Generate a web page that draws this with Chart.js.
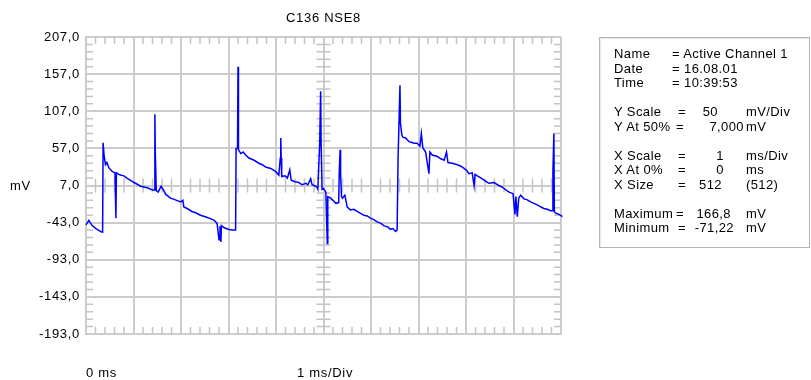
<!DOCTYPE html>
<html>
<head>
<meta charset="utf-8">
<script src="https://cdn.jsdelivr.net/npm/chart.js@4"></script>
<style>
  body { margin: 0; background: #fff; }
  #wrap { position: relative; width: 811px; height: 380px; font-family: "Liberation Sans", Arial, sans-serif; font-size: 13px; letter-spacing: 0.7px; color: #000; }
  #wrap canvas { position: absolute; left: 0; top: 0; }
  .t { position: absolute; white-space: pre; line-height: 14px; }
  #info { position: absolute; left: 599px; top: 37px; width: 209px; height: 209px; border: 1px solid #b4b4b4; box-shadow: inset 1px 1px 0 #e8e8e8; letter-spacing: 0.4px; }
</style>
</head>
<body>
<div id="wrap">
  <canvas id="scope" width="811" height="380"></canvas>
  <div class="t" style="left:286px;top:11px">C136 NSE8</div>
  <div class="t" style="left:10px;top:179px">mV</div>
  <div class="t" style="left:86px;top:366px">0 ms</div>
  <div class="t" style="left:297px;top:366px">1 ms/Div</div>
  <div id="info"></div>
</div>
<script>
// --- data (time in ms, voltage in mV) ---
const timeMs = [
  0.00, 0.06, 0.13, 0.21, 0.31, 0.35, 0.36, 0.38, 0.41, 0.44, 0.48, 0.55, 0.61, 0.63, 0.64, 0.72,
  0.80, 0.86, 0.94, 1.01, 1.07, 1.15, 1.22, 1.29, 1.40, 1.44, 1.45, 1.46, 1.47, 1.48, 1.52, 1.58,
  1.62, 1.68, 1.78, 1.87, 1.99, 2.04, 2.06, 2.13, 2.23, 2.32, 2.41, 2.51, 2.63, 2.70, 2.76, 2.80,
  2.82, 2.84, 2.85, 2.91, 2.99, 3.07, 3.15, 3.16, 3.19, 3.20, 3.21, 3.26, 3.31, 3.36, 3.43, 3.54,
  3.64, 3.71, 3.78, 3.89, 3.99, 4.06, 4.09, 4.10, 4.11, 4.12, 4.19, 4.24, 4.29, 4.32, 4.40, 4.48,
  4.55, 4.63, 4.67, 4.73, 4.76, 4.80, 4.86, 4.88, 4.92, 4.94, 4.95, 4.97, 5.00, 5.05, 5.08, 5.09,
  5.15, 5.20, 5.26, 5.32, 5.33, 5.35, 5.36, 5.38, 5.40, 5.45, 5.50, 5.57, 5.64, 5.71, 5.79, 5.85,
  5.92, 5.99, 6.06, 6.13, 6.21, 6.27, 6.36, 6.41, 6.46, 6.52, 6.55, 6.57, 6.61, 6.62, 6.65, 6.67,
  6.73, 6.80, 6.86, 6.91, 6.97, 7.03, 7.06, 7.09, 7.15, 7.22, 7.24, 7.29, 7.40, 7.47, 7.54, 7.59,
  7.62, 7.71, 7.82, 7.89, 7.96, 8.02, 8.06, 8.13, 8.17, 8.19, 8.24, 8.32, 8.41, 8.48, 8.59, 8.69,
  8.76, 8.80, 8.86, 8.91, 8.99, 9.03, 9.05, 9.08, 9.11, 9.15, 9.22, 9.28, 9.36, 9.43, 9.50, 9.58,
  9.64, 9.71, 9.78, 9.82, 9.83, 9.85, 9.86, 9.88, 9.96, 10.03, 10.11, 10.17, 10.22
];
const voltMv = [
  -46, -40, -47, -51, -55, -56, 64.6, 48, 35, 38, 31, 26, 24, -37, 24, 21,
  20, 17, 14, 11, 9, 6, 5, 4, 1, 1, 103, 49, 49, 0, -2, 6,
  2, -5, -10, -12, -15, -13, -22, -24, -28, -30, -33, -35, -38, -40, -44, -66,
  -48, -69, -47, -50, -52, -53, -53, 57, 57, 166.8, 55, 50, 52, 48, 44, 41,
  37, 35, 32, 30, 26, 21, 44, 71, 44, 19, 20, 17, 28, 14, 12, 11,
  8, 10, 8, 16, 8, 7, 5, 2, 64, 134, 64, 2, 3, -2, -71.2, -8,
  -10, -13, -17, -16, 21, 55, 21, -8, -10, -6, -22, -26, -25, -28, -31, -33,
  -34, -37, -39, -42, -44, -47, -49, -52, -51, -55, -53, 44, 142, 91, 75, 72,
  71, 66, 65, 64, 64, 60, 77, 58, 52, 23, 52, 48, 46, 43, 41, 52,
  38, 37, 35, 33, 30, 27, 23, 24, 7, 22, 20, 17, 13, 10, 11, 7,
  5, 3, 0, -2, -4, -32, -8, -35, -10, -6, -11, -12, -15, -17, -19, -22,
  -24, -25, -27, -27, 26, 77, -28, -30, -32, -35, -38, -42, -40
];

// axis settings: 10 divisions of 1 ms, 8 divisions of 50 mV centred on 7 mV
const xDivs = [0, 10];
const yRange = [-193, 207];
const yStep = 50;
const minorPerDiv = 5;

// info panel rows: [label, equals, value, unit]
const infoRows = [
  ['Name', '= Active Channel 1', '', ''],
  ['Date', '= 16.08.01', '', ''],
  ['Time', '= 10:39:53', '', ''],
  null,
  ['Y Scale', '=', '50', 'mV/Div'],
  ['Y At 50%', '=', '7,000', 'mV'],
  null,
  ['X Scale', '=', '1', 'ms/Div'],
  ['X At 0%', '=', '0', 'ms'],
  ['X Size', '=', '512', '(512)'],
  null,
  ['Maximum', '=', '166,8', 'mV'],
  ['Minimum', '=', '-71,22', 'mV']
];

// build the info panel
const info = document.getElementById('info');
const valRight = { '50': 718, '7,000': 744, '1': 724, '0': 724, '512': 722, '166,8': 731, '-71,22': 734 };
const eqLeft = { 'Y At 50%': 676, 'Maximum': 676 };
let rowY = 9;
infoRows.forEach(r => {
  if (!r) { rowY += 14.5; return; }
  const add = (txt, left, right) => {
    const d = document.createElement('div');
    d.className = 't';
    d.textContent = txt;
    d.style.top = rowY + 'px';
    if (right != null) d.style.right = (209 - (right - 600)) + 'px';
    else d.style.left = (left - 600) + 'px';
    info.appendChild(d);
  };
  add(r[0], 614);
  add(r[1], r[2] ? (eqLeft[r[0]] || 678) : 672);
  if (r[2]) add(r[2], null, valRight[r[2]]);
  if (r[3]) add(r[3], 746);
  rowY += 14.5;
});

const gridColor = '#cccccc';

// minor tick marks on the frame and on the centre cross
const scopeTicks = {
  id: 'scopeTicks',
  beforeDatasetsDraw(chart) {
    const { ctx, chartArea: a, scales: { x, y } } = chart;
    ctx.save();
    ctx.strokeStyle = '#c4c4c4';
    ctx.lineWidth = 1.5;
    ctx.beginPath();
    const xMid = x.getPixelForValue((xDivs[0] + xDivs[1]) / 2);
    const yMid = y.getPixelForValue((yRange[0] + yRange[1]) / 2);
    for (let i = 0; i <= (xDivs[1] - xDivs[0]) * minorPerDiv; i++) {
      if (i % minorPerDiv === 0) continue;
      const px = x.getPixelForValue(xDivs[0] + i / minorPerDiv);
      ctx.moveTo(px, a.top); ctx.lineTo(px, a.top + 7);
      ctx.moveTo(px, a.bottom); ctx.lineTo(px, a.bottom - 7);
      ctx.moveTo(px, yMid - 7); ctx.lineTo(px, yMid + 7);
    }
    const nY = (yRange[1] - yRange[0]) / yStep * minorPerDiv;
    for (let i = 0; i <= nY; i++) {
      if (i % minorPerDiv === 0) continue;
      const py = y.getPixelForValue(yRange[0] + i * yStep / minorPerDiv);
      ctx.moveTo(a.left, py); ctx.lineTo(a.left + 7, py);
      ctx.moveTo(a.right, py); ctx.lineTo(a.right - 7, py);
      ctx.moveTo(xMid - 7, py); ctx.lineTo(xMid + 7, py);
    }
    ctx.stroke();
    ctx.restore();
  },
  beforeDraw(chart) {
    chart.ctx.letterSpacing = '0.7px';
  }
};

const ctx = document.getElementById('scope').getContext('2d');
new Chart(ctx, {
  type: 'line',
  data: {
    datasets: [{
      data: timeMs.map((t, i) => ({ x: t, y: voltMv[i] })),
      borderColor: '#0000ff',
      borderWidth: 1.5,
      pointRadius: 0,
      tension: 0,
      clip: false
    }]
  },
  options: {
    responsive: false,
    animation: false,
    layout: { padding: { left: 0, top: 37, right: 250, bottom: 0 } },
    plugins: { legend: { display: false }, tooltip: { enabled: false } },
    scales: {
      x: {
        type: 'linear',
        min: xDivs[0],
        max: xDivs[1],
        ticks: { display: false, stepSize: 1 },
        grid: { color: gridColor, lineWidth: 2, drawTicks: false },
        border: { color: gridColor, width: 2 },
        afterFit: s => { s.height = 46; }
      },
      y: {
        min: yRange[0],
        max: yRange[1],
        ticks: {
          stepSize: yStep,
          padding: 6,
          color: '#000',
          font: { family: 'Liberation Sans', size: 13 },
          callback: v => v.toFixed(1).replace('.', ',')
        },
        grid: { color: gridColor, lineWidth: 2, drawTicks: false },
        border: { color: gridColor, width: 2 },
        afterFit: s => { s.width = 86; }
      }
    }
  },
  plugins: [scopeTicks]
});
</script>
</body>
</html>
